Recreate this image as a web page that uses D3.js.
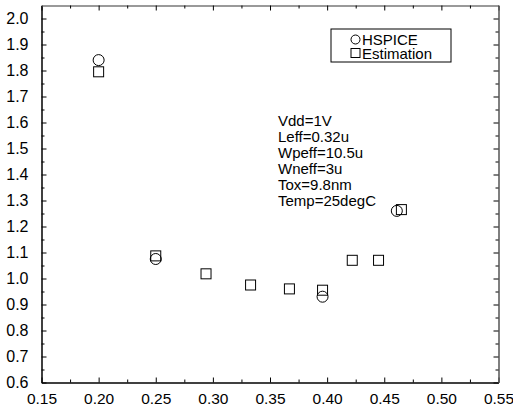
<!DOCTYPE html>
<html>
<head>
<meta charset="utf-8">
<script src="https://cdn.jsdelivr.net/npm/d3@7"></script>
<style>
  body { margin: 0; background: #fff; }
  text { font-family: "Liberation Sans", Arial, sans-serif; fill: #000; }
</style>
</head>
<body>
<script>
const width = 513,
      height = 407;

// data
const hspiceX = [0.200, 0.250, 0.396, 0.461];
const hspiceY = [1.840, 1.075, 0.930, 1.260];
const estX = [0.200, 0.250, 0.294, 0.333, 0.367, 0.396, 0.422, 0.445, 0.465];
const estY = [1.795, 1.087, 1.018, 0.975, 0.960, 0.955, 1.070, 1.070, 1.265];
const xTicks = [0.15, 0.20, 0.25, 0.30, 0.35, 0.40, 0.45, 0.50, 0.55];
const yTicks = [0.6, 0.7, 0.8, 0.9, 1.0, 1.1, 1.2, 1.3, 1.4, 1.5, 1.6, 1.7, 1.8, 1.9, 2.0];
const notes = ["Vdd=1V", "Leff=0.32u", "Wpeff=10.5u", "Wneff=3u", "Tox=9.8nm", "Temp=25degC"];
const legendNames = ["HSPICE", "Estimation"];

const x = d3.scaleLinear()
    .domain([0.15, 0.55])
    .range([41.5, 498.5]);

const y = d3.scaleLinear()
    .domain([0.6, 2.05])
    .range([382.5, 5.5]);

const svg = d3.select("body")
    .append("svg")
    .attr("width", width)
    .attr("height", height);

// minor ticks halfway between majors
const xMinor = d3.range(0.175, 0.55, 0.05);
const yMinor = d3.range(0.65, 2.05, 0.1);

// bottom axis with labels
svg.append("g")
    .attr("transform", `translate(0,${y.range()[0]})`)
    .call(d3.axisBottom(x).tickValues(xTicks).tickSizeInner(-5).tickSizeOuter(0).tickPadding(10)
      .tickFormat(d3.format(".2f")))
    .call(g => g.selectAll("text").attr("font-size", 15.5).attr("dy", "0.71em"));

svg.append("g")
    .attr("transform", `translate(0,${y.range()[0]})`)
    .call(d3.axisBottom(x).tickValues(xMinor).tickSize(-3).tickFormat(""))
    .call(g => g.select(".domain").remove());

// left axis with labels
svg.append("g")
    .attr("transform", `translate(${x.range()[0]},0)`)
    .call(d3.axisLeft(y).tickValues(yTicks).tickSizeInner(-5).tickSizeOuter(0).tickPadding(13)
      .tickFormat(d3.format(".1f")))
    .call(g => g.selectAll("text").attr("font-size", 16));

svg.append("g")
    .attr("transform", `translate(${x.range()[0]},0)`)
    .call(d3.axisLeft(y).tickValues(yMinor).tickSize(-3).tickFormat(""))
    .call(g => g.select(".domain").remove());

// top and right: ticks only
svg.append("g")
    .attr("transform", `translate(0,${y.range()[1]})`)
    .call(d3.axisTop(x).tickValues(xTicks).tickSizeInner(-5).tickSizeOuter(0).tickFormat(""))
    .call(g => g.select(".domain").attr("stroke", "#777").attr("stroke-width", 1.5));

svg.append("g")
    .attr("transform", `translate(0,${y.range()[1]})`)
    .call(d3.axisTop(x).tickValues(xMinor).tickSize(-3).tickFormat(""))
    .call(g => g.select(".domain").remove());

svg.append("g")
    .attr("transform", `translate(${x.range()[1]},0)`)
    .call(d3.axisRight(y).tickValues(yTicks).tickSizeInner(-5).tickSizeOuter(0).tickFormat(""))
    .call(g => g.select(".domain").attr("stroke", "#555").attr("stroke-width", 1.5));

svg.append("g")
    .attr("transform", `translate(${x.range()[1]},0)`)
    .call(d3.axisRight(y).tickValues(yMinor).tickSize(-3).tickFormat(""))
    .call(g => g.select(".domain").remove());

svg.selectAll(".domain").filter(function() { return !this.getAttribute("stroke-width"); })
    .attr("stroke-width", 1.5);

// estimation squares
const sq = 10;
svg.append("g")
    .selectAll("rect")
    .data(estX.map((d, i) => [d, estY[i]]))
    .enter().append("rect")
    .attr("x", d => x(d[0]) - sq / 2)
    .attr("y", d => y(d[1]) - sq / 2)
    .attr("width", sq)
    .attr("height", sq)
    .attr("fill", "none")
    .attr("stroke", "#000")
    .attr("stroke-width", 1);

// hspice circles
svg.append("g")
    .selectAll("circle")
    .data(hspiceX.map((d, i) => [d, hspiceY[i]]))
    .enter().append("circle")
    .attr("cx", d => x(d[0]))
    .attr("cy", d => y(d[1]))
    .attr("r", 5.5)
    .attr("fill", "none")
    .attr("stroke", "#000")
    .attr("stroke-width", 1);

// condition notes
svg.append("g")
    .selectAll("text")
    .data(notes)
    .enter().append("text")
    .attr("x", 278)
    .attr("y", (d, i) => 126 + i * 16)
    .attr("font-size", 15)
    .text(d => d);

// legend
const legend = svg.append("g")
    .attr("transform", "translate(331,29)");

legend.append("rect")
    .attr("width", 120)
    .attr("height", 33)
    .attr("fill", "#fff")
    .attr("stroke", "#000")
    .attr("stroke-width", 1);

legend.append("circle")
    .attr("cx", 24.5)
    .attr("cy", 10.5)
    .attr("r", 4.5)
    .attr("fill", "none")
    .attr("stroke", "#000");

legend.append("rect")
    .attr("x", 20)
    .attr("y", 19.5)
    .attr("width", 9)
    .attr("height", 9)
    .attr("fill", "none")
    .attr("stroke", "#000");

legend.selectAll("text.name")
    .data(legendNames)
    .enter().append("text")
    .attr("class", "name")
    .attr("x", 31)
    .attr("y", (d, i) => 15.5 + i * 14)
    .attr("font-size", 15)
    .text(d => d);
</script>
</body>
</html>
